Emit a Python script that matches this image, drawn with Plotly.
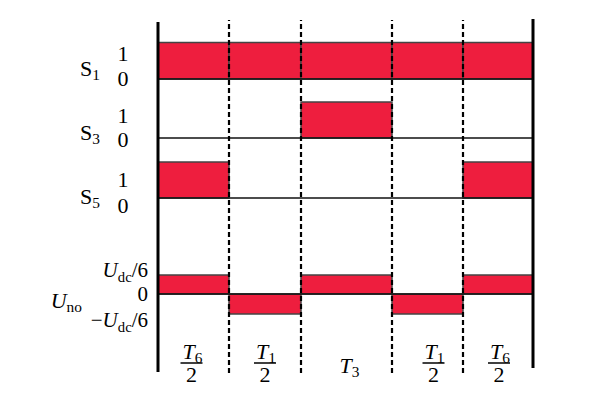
import plotly.graph_objects as go
import numpy as np

# ---- data ----
seg_labels_num = ["<i>T</i><sub>6</sub>", "<i>T</i><sub>1</sub>", "<i>T</i><sub>3</sub>", "<i>T</i><sub>1</sub>", "<i>T</i><sub>6</sub>"]
seg_has_half = [True, True, False, True, True]
durations = [71, 72, 91, 71, 70]          # T6/2, T1/2, T3, T1/2, T6/2 (relative)
S1 = [1, 1, 1, 1, 1]
S3 = [0, 0, 1, 0, 0]
S5 = [1, 0, 0, 0, 1]
Uno = [1, -1, 1, -1, 1]                   # in units of Udc/6
row_names = ["S<sub>1</sub>", "S<sub>3</sub>", "S<sub>5</sub>"]
uno_ticks = ["<i>U</i><sub>dc</sub>/6", "0", "−<i>U</i><sub>dc</sub>/6"]
uno_name = "<i>U</i><sub>no</sub>"

OFF = 8                 # browser default body margin
W, H = 616 - 2 * OFF, 400 - 2 * OFF
X0 = 158 - OFF          # pixel of t=0 inside figure
FONT = "Liberation Serif"
RED = "#EE1E3E"
EDGE = "#444444"

def py(p):  # page pixel row -> y data
    return H - (p - OFF)

def pxx(p):  # page pixel column -> x data
    return p - OFF - X0

edges = np.concatenate([[0], np.cumsum(durations)])
centers = (edges[:-1] + edges[1:]) / 2
widths = np.array(durations)
T = edges[-1]

rows = [  # (values, baseline pixel, height px)
    (S1, 79, 36.5),
    (S3, 138, 36),
    (S5, 198, 36),
]

fig = go.Figure()
for vals, base_p, h in rows:
    v = np.array(vals)
    m = v != 0
    fig.add_trace(go.Bar(x=centers[m], width=widths[m], y=v[m] * h, base=py(base_p),
                         marker=dict(color=RED, line=dict(color=EDGE, width=1.5)),
                         showlegend=False, hoverinfo="skip"))

u = np.array(Uno)
upos = u > 0
fig.add_trace(go.Bar(x=centers[upos], width=widths[upos], y=u[upos] * 19, base=py(294),
                     marker=dict(color=RED, line=dict(color=EDGE, width=1.5)),
                     showlegend=False, hoverinfo="skip"))
fig.add_trace(go.Bar(x=centers[~upos], width=widths[~upos], y=u[~upos] * 20, base=py(294),
                     marker=dict(color=RED, line=dict(color=EDGE, width=1.5)),
                     showlegend=False, hoverinfo="skip"))

shapes = []
# baselines
for p in [79, 138, 198, 294]:
    shapes.append(dict(type="line", xref="x", yref="y", x0=0, x1=T, y0=py(p), y1=py(p),
                       line=dict(color="#111", width=1.5)))
# dashed boundaries
for e in edges[1:-1]:
    shapes.append(dict(type="line", xref="x", yref="y", x0=e, x1=e, y0=py(373), y1=py(20),
                       line=dict(color="black", width=2.2, dash="5px,3px")))
# solid outer
shapes.append(dict(type="line", xref="x", yref="y", x0=0, x1=0, y0=py(372), y1=py(22),
                   line=dict(color="black", width=3)))
shapes.append(dict(type="line", xref="x", yref="y", x0=T, x1=T, y0=py(368), y1=py(19),
                   line=dict(color="black", width=3)))

def add_text(texts, xs, ys, pos, size=22):
    fig.add_trace(go.Scatter(x=[pxx(x) for x in xs], y=[py(y) for y in ys], mode="text",
                             text=texts, textposition=pos,
                             textfont=dict(family=FONT, size=size, color="black"),
                             showlegend=False, hoverinfo="skip", cliponaxis=False))

# row labels
add_text(row_names, [100, 100, 100], [70, 134, 198], "middle left")
add_text(["1", "0", "1", "0", "1", "0"], [123] * 6, [55, 80, 117, 141, 181, 207], "middle center")
add_text(uno_ticks, [148, 148, 148], [272, 296, 322], "middle left", size=21)
add_text([uno_name], [82], [302], "middle left")

# segment labels
xshift = [-2, 0, 3, 6, 1]
num_x, num_y, den_x, den_y, den_t = [], [], [], [], []
for i in range(len(durations)):
    cx = X0 + OFF + centers[i] + xshift[i]
    if seg_has_half[i]:
        num_x.append(cx + 1); num_y.append(353)
        den_x.append(cx); den_y.append(376); den_t.append("2")
        shapes.append(dict(type="line", xref="x", yref="y", x0=centers[i] + xshift[i] - 11,
                           x1=centers[i] + xshift[i] + 11, y0=py(363), y1=py(363),
                           line=dict(color="black", width=1.5)))
    else:
        num_x.append(cx); num_y.append(367)
add_text(seg_labels_num, num_x, num_y, "middle center")
add_text(den_t, den_x, den_y, "middle center")

fig.update_layout(
    width=W, height=H, margin=dict(l=0, r=0, t=0, b=0),
    paper_bgcolor="white", plot_bgcolor="white",
    barmode="overlay",
    xaxis=dict(range=[-X0, W - X0], visible=False, fixedrange=True),
    yaxis=dict(range=[0, H], visible=False, fixedrange=True),
    shapes=shapes,
)
fig.write_html("out.html")
